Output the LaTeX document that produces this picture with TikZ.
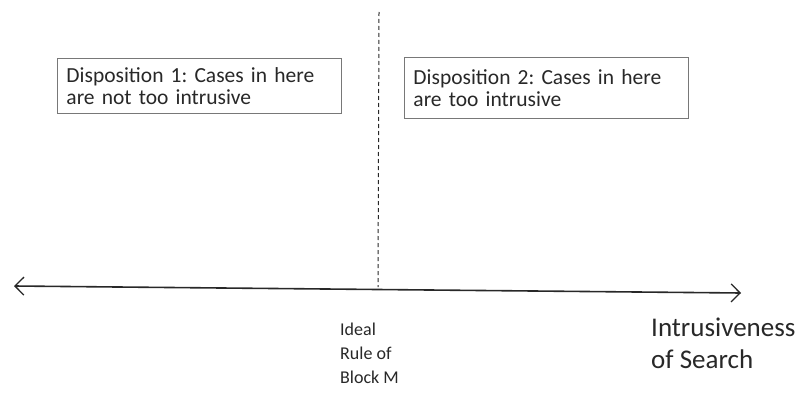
\documentclass[tikz,border=0pt]{standalone}
\usepackage{fontspec}
\setmainfont{Carlito}
\frenchspacing
\usetikzlibrary{arrows.meta}
\definecolor{ink}{RGB}{40,40,40}
\definecolor{frame}{RGB}{120,120,120}
\tikzset{
  dispbox/.style={draw=frame, line width=0.9pt, anchor=north west, align=left,
    text=ink, inner xsep=9pt, inner ysep=4pt, font=\fontsize{21.5}{22}\selectfont},
  axislabel/.style={anchor=north west, align=left, text=ink, inner sep=0pt},
  axis/.style={line width=1.6pt, draw=ink, {Straight Barb[length=9pt,width=18pt,line width=1.3pt]}-{Straight Barb[length=9pt,width=18pt,line width=1.3pt]}},
  divider/.style={draw=ink, line width=1pt, dash pattern=on 4pt off 3pt}
}
\begin{document}
\begin{tikzpicture}[x=1pt,y=-1pt]
\useasboundingbox (0,0) rectangle (802,396);
\fill[white] (0,0) rectangle (802,396);

% horizontal axis with arrow heads at both ends
\coordinate (axL) at (14,286);
\coordinate (axR) at (741,293);
\draw[axis] (axL) -- (axR);

% vertical dashed divider
\coordinate (divTop) at (379,12);
\coordinate (divBot) at (378,287);
\draw[divider] (divTop) -- (divBot);

% disposition boxes
\node[dispbox, text width=266pt, minimum height=55pt] (d1) at (57,58)
  {Disposition 1: Cases in here\\are not too intrusive};
\node[dispbox, text width=266pt, minimum height=61pt] (d2) at (404,57)
  {Disposition 2: Cases in here\\are too intrusive};

% labels below the axis
\node[axislabel, font=\fontsize{18}{24}\selectfont] (ideal) at (340,323)
  {Ideal\\Rule of\\Block M};
\node[axislabel, font=\fontsize{27}{32}\selectfont] (intr) at (651,318)
  {Intrusiveness\\of Search};
\end{tikzpicture}
\end{document}
